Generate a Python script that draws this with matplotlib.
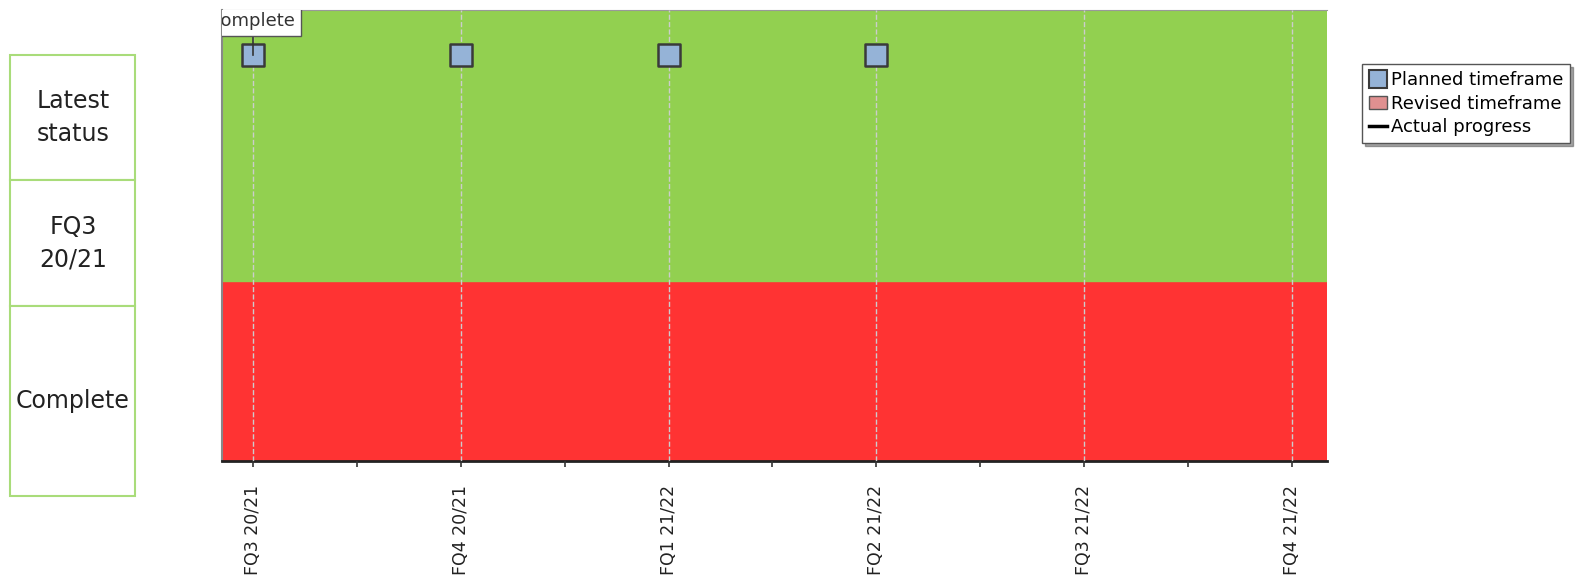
import matplotlib.pyplot as plt
import matplotlib.patches as mpatches
from matplotlib.lines import Line2D

# quarters on the x axis
quarters = ['FQ3 20/21', 'FQ4 20/21', 'FQ1 21/22', 'FQ2 21/22', 'FQ3 21/22', 'FQ4 21/22']
# planned milestones (quarter index)
planned = [0, 1, 2, 3]
planned_level = [0.9, 0.9, 0.9, 0.9]
# status bands (bottom, top)
bands = [(0.0, 0.4, '#ff3333'), (0.4, 1.0, '#92d050')]
# left info table
table_rows = ['Latest\nstatus', 'FQ3\n20/21', 'Complete']
note_text = 'Complete'

W, H = 1588, 580
fig = plt.figure(figsize=(W / 100, H / 100), dpi=100)

# main plot
ax = fig.add_axes([222 / W, 1 - 461 / H, (1327 - 222) / W, (461 - 10) / H])
for lo, hi, c in bands:
    ax.axhspan(lo, hi, color=c, zorder=0)
ax.set_xlim(-0.15, 5.17)
ax.set_ylim(0, 1)
ax.set_xticks(range(len(quarters)))
ax.set_xticklabels(quarters, rotation=90, fontsize=12.5, family='DejaVu Sans', color='#222222')
ax.set_xticks([i + 0.5 for i in range(len(quarters) - 1)], minor=True)
ax.set_yticks([])
ax.tick_params(axis='x', which='both', direction='out', length=4, width=1.2, color='#333333', pad=13)
ax.grid(axis='x', which='major', color='#cccccc', linestyle='--', linewidth=1, zorder=1)
ax.set_axisbelow(False)
ax.spines['right'].set_visible(False)
ax.spines['top'].set_color('#999999')
ax.spines['left'].set_color('#888888')
ax.spines['left'].set_linewidth(1.5)
ax.spines['bottom'].set_color('#222222')
ax.spines['bottom'].set_linewidth(2)

ax.scatter(planned, planned_level, marker='s', s=250, facecolor='#95b3d7',
           edgecolor='#3a3a3a', linewidth=1.8, zorder=5)

# clipped note label
ax.plot([planned[0], planned[0]], [0.955, planned_level[0]], color='#333333', lw=1.2, zorder=6)
ax.text(-0.215, 0.995, note_text, fontsize=13, va='top', ha='left', color='#333333',
        bbox=dict(boxstyle='square,pad=0.3', facecolor='white', edgecolor='#555555'),
        clip_on=True, zorder=7)

# left table
row_edges = [55, 180, 306, 496]
for i, label in enumerate(table_rows):
    top, bot = row_edges[i], row_edges[i + 1]
    r = mpatches.Rectangle((10 / W, 1 - bot / H), 125 / W, (bot - top) / H,
                           transform=fig.transFigure, facecolor='white',
                           edgecolor='#a9dc7a', linewidth=1.5)
    fig.add_artist(r)
    fig.text(73 / W, 1 - (top + bot) / 2 / H, label, ha='center', va='center',
             fontsize=17, linespacing=1.45, family='DejaVu Sans', color='#222222')

# legend
handles = [
    Line2D([], [], marker='s', linestyle='none', markersize=13,
           markerfacecolor='#95b3d7', markeredgecolor='#3a3a3a', markeredgewidth=1.5),
    mpatches.FancyBboxPatch((0, 0), 1, 1, boxstyle='round,pad=0.1',
                            facecolor='#e09090', edgecolor='#555555'),
    Line2D([], [], color='black', linewidth=2.5),
]
leg = fig.legend(handles, ['Planned timeframe', 'Revised timeframe', 'Actual progress'],
                 loc='upper left', bbox_to_anchor=(1362 / W, 1 - 64 / H),
                 fontsize=13, frameon=True, fancybox=False, shadow=True,
                 handlelength=1.0, handletextpad=0.2, labelspacing=0.3,
                 borderpad=0.4, borderaxespad=0)
leg.get_frame().set_edgecolor('#555555')

fig.savefig('out.png', dpi=100)
